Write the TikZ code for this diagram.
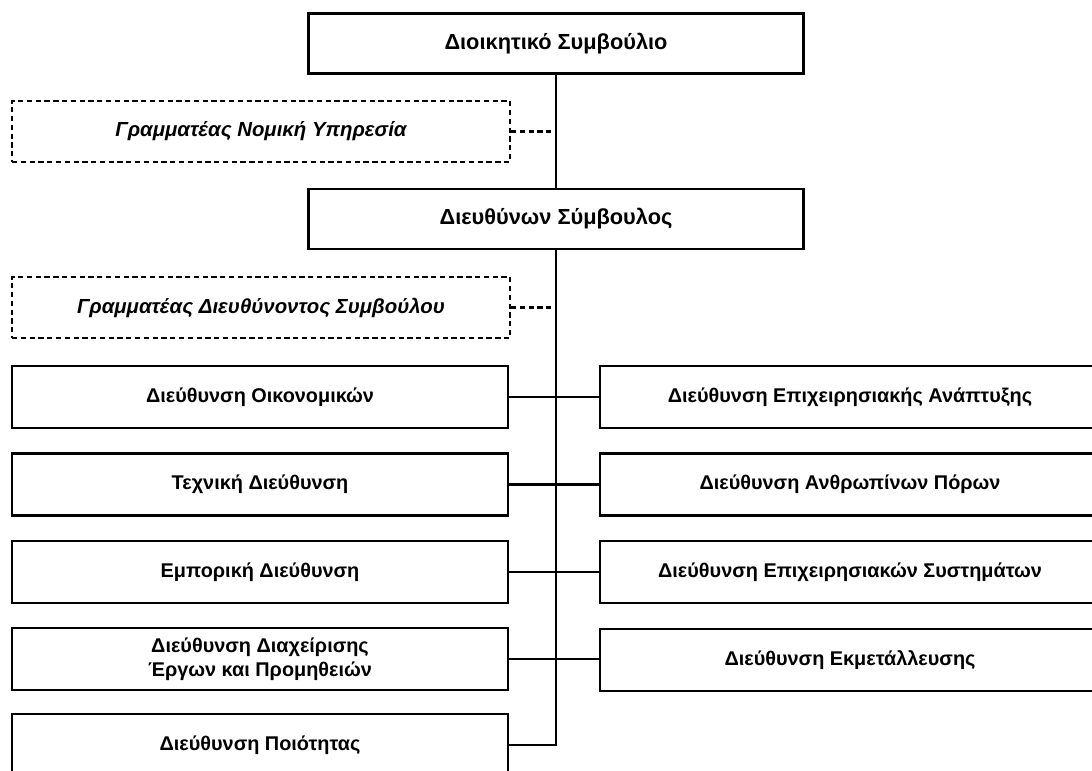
\documentclass[tikz,border=0pt]{standalone}
\usepackage{fontspec}
\setmainfont{Liberation Sans}
\usetikzlibrary{positioning, calc}

\begin{document}
\begin{tikzpicture}[
    block/.style={rectangle, draw, line width=1.5pt, minimum width=9.92cm, minimum height=1.24cm, font=\fontsize{11.3}{13.6}\selectfont\bfseries, align=center, inner sep=0pt},
    topblock/.style={block, minimum width=9.9cm, minimum height=1.2cm, font=\fontsize{12.4}{14}\selectfont\bfseries},
    dashblock/.style={block, dash pattern=on 3pt off 2pt, line width=1.2pt, minimum width=9.96cm, minimum height=1.22cm, font=\fontsize{11.6}{13.6}\selectfont\bfseries\itshape},
    link/.style={line width=1.5pt},
    dashlink/.style={dash pattern=on 3pt off 2pt, line width=1.2pt}
]
    \useasboundingbox (0,0) rectangle (21.84,-15.42);
    \clip (0,0) rectangle (21.84,-15.42);

    % Top management
    \node [topblock] (board) at (11.12, -0.87) {Διοικητικό Συμβούλιο};
    \node [dashblock] (legal) at (5.22, -2.63) {Γραμματέας Νομική Υπηρεσία};
    \node [topblock] (ceo) at (11.12, -4.38) {Διευθύνων Σύμβουλος};
    \node [dashblock] (secr) at (5.22, -6.15) {Γραμματέας Διευθύνοντος Συμβούλου};

    % Left directorates
    \node [block] (fin) at (5.2, -7.94) {Διεύθυνση Οικονομικών};
    \node [block] (tech) at (5.2, -9.69) {Τεχνική Διεύθυνση};
    \node [block] (comm) at (5.2, -11.44) {Εμπορική Διεύθυνση};
    \node [block] (proj) at (5.2, -13.18) {Διεύθυνση Διαχείρισης\\Έργων και Προμηθειών};
    \node [block] (qual) at (5.2, -14.9) {Διεύθυνση Ποιότητας};

    % Right directorates
    \node [block, minimum width=10cm] (bizdev) at (17, -7.94) {Διεύθυνση Επιχειρησιακής Ανάπτυξης};
    \node [block, minimum width=10cm] (hr) at (17, -9.69) {Διεύθυνση Ανθρωπίνων Πόρων};
    \node [block, minimum width=10cm] (sys) at (17, -11.44) {Διεύθυνση Επιχειρησιακών Συστημάτων};
    \node [block, minimum width=10cm] (ops) at (17, -13.2) {Διεύθυνση Εκμετάλλευσης};

    % Trunk
    \draw [link] (board.south) -- (ceo.north);
    \draw [link] (ceo.south) -- (ceo.south |- qual.east) -- (qual.east);

    % Staff links
    \draw [dashlink] (legal.east) -- (legal.east -| board.south);
    \draw [dashlink] (secr.east) -- (secr.east -| ceo.south);

    % Directorate links
    \draw [link] (fin.east) -- (bizdev.west);
    \draw [link] (tech.east) -- (hr.west);
    \draw [link] (comm.east) -- (sys.west);
    \draw [link] (proj.east) -- (proj.east -| ops.west);
\end{tikzpicture}
\end{document}
